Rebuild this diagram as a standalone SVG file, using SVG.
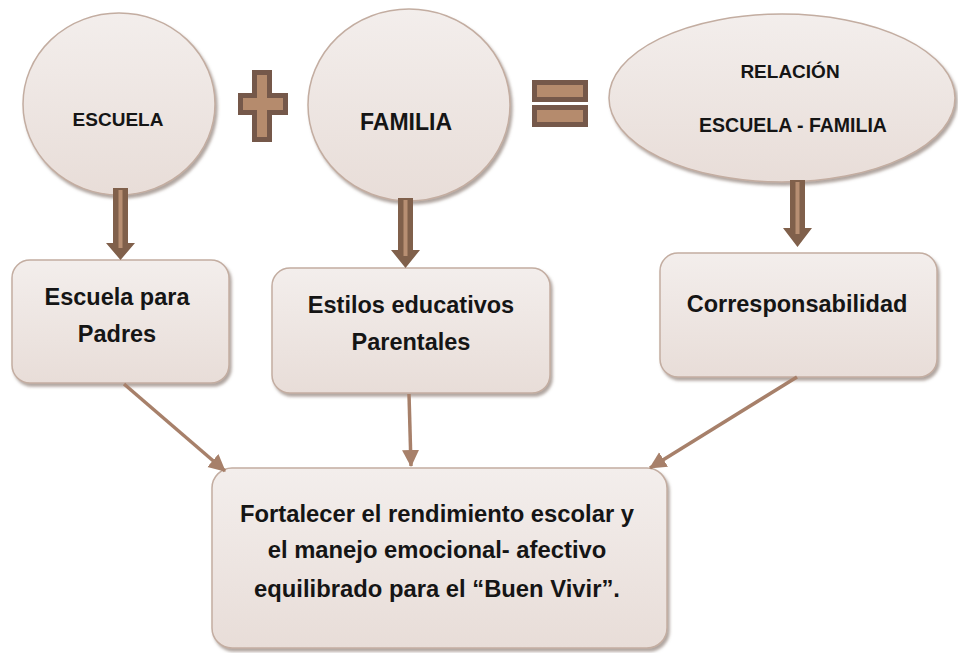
<svg xmlns="http://www.w3.org/2000/svg" width="958" height="653" viewBox="0 0 958 653">
  <defs>
    <linearGradient id="fillGrad" x1="0" y1="0" x2="0" y2="1">
      <stop offset="0" stop-color="#f3eeec"/>
      <stop offset="1" stop-color="#e8ddd8"/>
    </linearGradient>
    <filter id="shadow" x="-10%" y="-10%" width="125%" height="130%">
      <feDropShadow dx="2" dy="3" stdDeviation="1.5" flood-color="#7d6a60" flood-opacity="0.6"/>
    </filter>
    <marker id="arrowHead" markerUnits="userSpaceOnUse" markerWidth="18" markerHeight="18" refX="16" refY="8.5" orient="auto">
      <path d="M0,0 L17,8.5 L0,17 Z" fill="#a7806a"/>
    </marker>
  </defs>
  <style>
    .node { fill: url(#fillGrad); stroke: #c3ada1; stroke-width: 1.5; filter: url(#shadow); }
    .lbl { font-family: "Liberation Sans", Arial, sans-serif; font-weight: bold; fill: #151515; text-anchor: middle; }
    .conn { stroke: #a7806a; stroke-width: 3.5; fill: none; marker-end: url(#arrowHead); }
    .blk { fill: #80604b; }
    .stripe { fill: #b88f73; }
    .symOuter { fill: #75584a; }
    .symInner { fill: #b58b6d; }
  </style>

  <g id="escuela">
    <ellipse class="node" cx="119" cy="104" rx="96" ry="91"/>
    <text class="lbl" x="118" y="126" font-size="19">ESCUELA</text>
  </g>

  <g id="plus">
    <path class="symOuter" d="M252,70 H272 V93 H288 V115 H272 V142 H252 V115 H238 V93 H252 Z"/>
    <path class="symInner" d="M257,75 H267 V98 H283 V110 H267 V137 H257 V110 H243 V98 H257 Z"/>
  </g>

  <g id="familia">
    <ellipse class="node" cx="409" cy="105" rx="101" ry="96"/>
    <text class="lbl" x="406" y="130" font-size="23">FAMILIA</text>
  </g>

  <g id="equals">
    <rect class="symOuter" x="532" y="80" width="56" height="22"/>
    <rect class="symInner" x="537" y="85" width="46" height="12"/>
    <rect class="symOuter" x="532" y="105" width="56" height="22"/>
    <rect class="symInner" x="537" y="110" width="46" height="12"/>
  </g>

  <g id="relacion">
    <ellipse class="node" cx="782" cy="98" rx="173" ry="84"/>
    <text class="lbl" x="790" y="78" font-size="19">RELACIÓN</text>
    <text class="lbl" x="793" y="132" font-size="19.5">ESCUELA - FAMILIA</text>
  </g>

  <g id="escuelaPadres">
    <rect class="node" x="12" y="260" width="217" height="123" rx="18" ry="18"/>
    <text class="lbl" x="117" y="305" font-size="23.5">Escuela para</text>
    <text class="lbl" x="117" y="342" font-size="23.5">Padres</text>
  </g>

  <g id="estilos">
    <rect class="node" x="272" y="268" width="278" height="125" rx="18" ry="18"/>
    <text class="lbl" x="411" y="313" font-size="23.5">Estilos educativos</text>
    <text class="lbl" x="411" y="350" font-size="23.5">Parentales</text>
  </g>

  <g id="corresponsabilidad">
    <rect class="node" x="660" y="253" width="277" height="124" rx="18" ry="18"/>
    <text class="lbl" x="797" y="312" font-size="23.5">Corresponsabilidad</text>
  </g>

  <g id="fortalecer">
    <rect class="node" x="212" y="468" width="455" height="180" rx="20" ry="20"/>
    <text class="lbl" x="437" y="522" font-size="23.8">Fortalecer el rendimiento escolar y</text>
    <text class="lbl" x="437" y="558" font-size="23.8">el manejo emocional- afectivo</text>
    <text class="lbl" x="437" y="597" font-size="23.8">equilibrado para el “Buen Vivir”.</text>
  </g>

  <g id="connectors">
    <path class="blk" d="M113,188 H128 V243 H135 L120.5,260 L106,243 H113 Z"/>
    <rect class="stripe" x="118.5" y="190" width="4" height="58"/>
    <path class="blk" d="M398,198 H413 V250 H420 L405.5,268 L391,250 H398 Z"/>
    <rect class="stripe" x="403.5" y="200" width="4" height="56"/>
    <path class="blk" d="M790,180 H805 V228 H812 L797.5,247 L783,228 H790 Z"/>
    <rect class="stripe" x="795.5" y="182" width="4" height="52"/>

    <line class="conn" x1="124" y1="384" x2="225" y2="471"/>
    <line class="conn" x1="409" y1="394" x2="411" y2="466"/>
    <line class="conn" x1="797" y1="377" x2="650" y2="468"/>
  </g>
</svg>
